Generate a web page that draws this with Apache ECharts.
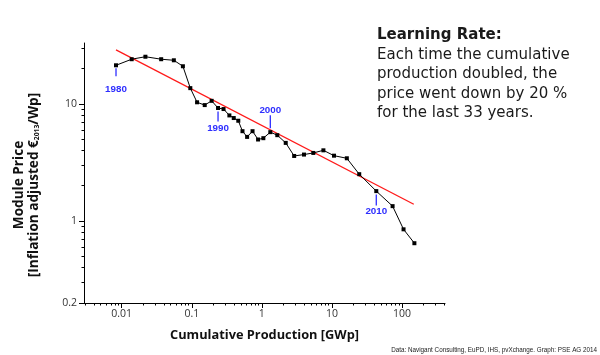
<!DOCTYPE html>
<html>
<head>
<meta charset="utf-8">
<script src="https://cdn.jsdelivr.net/npm/echarts@6/dist/echarts.min.js"></script>
<style>html,body{margin:0;padding:0;background:#fff;}#c{width:600px;height:355px;}</style>
</head>
<body>
<div id="c"></div>
<script>
// ---- data ----
const years = [1980,1981,1982,1983,1984,1985,1986,1987,1988,1989,1990,1991,1992,1993,1994,1995,1996,1997,1998,1999,2000,2001,2002,2003,2004,2005,2006,2007,2008,2009,2010,2011,2012,2013];
const cumProduction = [0.0083,0.0139,0.0218,0.0366,0.0555,0.0747,0.0953,0.119,0.153,0.192,0.237,0.284,0.344,0.397,0.461,0.529,0.616,0.736,0.883,1.05,1.32,1.66,2.19,2.89,3.99,5.42,7.55,10.7,16.3,24.5,42.9,73.3,105,150];
const modulePrice = [21.3,24.0,25.2,24.0,23.5,20.9,13.6,10.3,9.75,10.6,9.21,9.02,7.96,7.56,7.17,5.84,5.22,5.84,4.96,5.09,5.73,5.40,4.64,3.59,3.69,3.81,4.01,3.61,3.43,2.51,1.80,1.34,0.85,0.647];
const trendProduction = [0.0083, 147];
const trendPrice = [28.8, 1.39];
const annotatedYears = [1980, 1990, 2000, 2010];
const xMajorTicks = [0.01, 0.1, 1, 10, 100];
const xMinorTicks = [0.003,0.004,0.005,0.006,0.007,0.008,0.009,0.02,0.03,0.04,0.05,0.06,0.07,0.08,0.09,0.2,0.3,0.4,0.5,0.6,0.7,0.8,0.9,2,3,4,5,6,7,8,9,20,30,40,50,60,70,80,90,200,300,400];
const yLabelTicks = [0.2, 1, 10];
const yMinorTicks = [0.3,0.4,0.5,0.6,0.7,0.8,0.9,2,3,4,5,6,7,8,9,20,30];
const xRange = [0.0029, 410];
const yRange = [0.2, 33];

// ---- styles ----
const BLUE = '#2e2eff';
const annStyle = [
  {l0: 3, l1: 11, t: 24},
  {l0: 3.5, l1: 13.5, t: 20},
  {l0: -4, l1: -17, t: -21.5},
  {l0: 3.5, l1: 14.5, t: 20}
];
const FONT = '"Open Sans", "Noto Sans", sans-serif';
const BLOCK_FONT = '"DejaVu Sans", "Open Sans", sans-serif';

const lineData = cumProduction.map((x, i) => [x, modulePrice[i]]);
const trendData = trendProduction.map((x, i) => [x, trendPrice[i]]);
const annData = annotatedYears.map(y => {
  const i = years.indexOf(y);
  return [cumProduction[i], modulePrice[i]];
});

const chart = echarts.init(document.getElementById('c'), null, {renderer: 'canvas'});
chart.setOption({
  animation: false,
  backgroundColor: '#fff',
  grid: {left: 84, right: 155, top: 43, bottom: 52, containLabel: false},
  xAxis: [{
    type: 'log', min: xRange[0], max: xRange[1],
    name: 'Cumulative Production [GWp]', nameLocation: 'middle', nameGap: 26,
    nameTextStyle: {fontFamily: FONT, fontWeight: 'bold', fontSize: 12.8, color: '#111'},
    axisLine: {show: true, lineStyle: {color: '#000', width: 1}},
    axisTick: {show: true, customValues: xMajorTicks, length: 5, lineStyle: {color: '#000'}},
    axisLabel: {customValues: xMajorTicks, fontFamily: FONT, fontSize: 10.5, color: '#333', margin: 6,
      formatter: v => String(v)},
    splitLine: {show: false}, minorTick: {show: false}, minorSplitLine: {show: false}
  }, {
    type: 'log', min: xRange[0], max: xRange[1], position: 'bottom',
    axisLine: {show: false},
    axisTick: {show: true, customValues: xMinorTicks, length: 2.5, lineStyle: {color: '#000'}},
    axisLabel: {show: false}, splitLine: {show: false}
  }],
  yAxis: [{
    type: 'log', min: yRange[0], max: yRange[1],
    name: '{t|Module Price}\n{t|[Inflation adjusted €}{s|2013}{t|/Wp]}',
    nameLocation: 'middle', nameRotate: 90, nameGap: 43,
    nameTextStyle: {
      fontFamily: FONT, color: '#111', padding: [0, 24, 0, 0],
      rich: {
        t: {fontFamily: FONT, fontWeight: 'bold', fontSize: 13.6, lineHeight: 14.5, color: '#111'},
        s: {fontFamily: FONT, fontWeight: 'bold', fontSize: 6.8, lineHeight: 5, verticalAlign: 'bottom', color: '#111'}
      }
    },
    axisLine: {show: true, lineStyle: {color: '#000', width: 1}},
    axisTick: {show: true, customValues: yLabelTicks, length: 5, lineStyle: {color: '#000'}},
    axisLabel: {customValues: yLabelTicks, fontFamily: FONT, fontSize: 10.5, color: '#333', margin: 7,
      formatter: v => String(v)},
    splitLine: {show: false}
  }, {
    type: 'log', min: yRange[0], max: yRange[1], position: 'left',
    axisLine: {show: false},
    axisTick: {show: true, customValues: yMinorTicks, length: 2.5, lineStyle: {color: '#000'}},
    axisLabel: {show: false}, splitLine: {show: false}
  }],
  series: [{
    type: 'line', name: 'Learning curve', data: trendData, xAxisIndex: 0, yAxisIndex: 0,
    symbol: 'none', silent: true,
    lineStyle: {color: '#ff1a1a', width: 1.3}, z: 2
  }, {
    type: 'line', name: 'Module price', data: lineData, xAxisIndex: 0, yAxisIndex: 0,
    symbol: 'rect', symbolSize: 4, silent: true,
    itemStyle: {color: '#000'}, lineStyle: {color: '#000', width: 1}, z: 3
  }, {
    type: 'custom', name: 'Years', data: annData, xAxisIndex: 0, yAxisIndex: 0, silent: true, z: 4,
    clip: false,
    encode: {x: 0, y: 1},
    renderItem: function (params, api) {
      const p = api.coord([api.value(0), api.value(1)]);
      const s = annStyle[params.dataIndex];
      return {
        type: 'group',
        children: [{
          type: 'line',
          shape: {x1: p[0], y1: p[1] + s.l0, x2: p[0], y2: p[1] + s.l1},
          style: {stroke: BLUE, lineWidth: 1.3}
        }, {
          type: 'text', x: p[0], y: p[1] + s.t,
          style: {
            text: String(annotatedYears[params.dataIndex]),
            fill: BLUE, font: 'bold 9.8px "Liberation Sans", Arial, sans-serif',
            textAlign: 'center', textVerticalAlign: 'middle'
          }
        }]
      };
    }
  }],
  graphic: [{
    type: 'text', left: 377, top: 28, silent: true,
    style: {
      text: '{h|Learning Rate:}\n{b|Each time the cumulative}\n{b|production doubled, the}\n{b|price went down by 20 %}\n{b|for the last 33 years.}',
      fill: '#1a1a1a',
      rich: {
        h: {fontFamily: BLOCK_FONT, fontWeight: 'bold', fontSize: 15, lineHeight: 20.5, fill: '#1a1a1a'},
        b: {fontFamily: BLOCK_FONT, fontSize: 15, lineHeight: 19.2, fill: '#1a1a1a'}
      }
    }
  }, {
    type: 'text', right: 3, bottom: 2, silent: true,
    style: {
      text: 'Data: Navigant Consulting, EuPD, IHS, pvXchange. Graph: PSE AG 2014',
      fill: '#222', font: '6.3px "Liberation Sans", Arial, sans-serif'
    }
  }]
});
</script>
</body>
</html>
